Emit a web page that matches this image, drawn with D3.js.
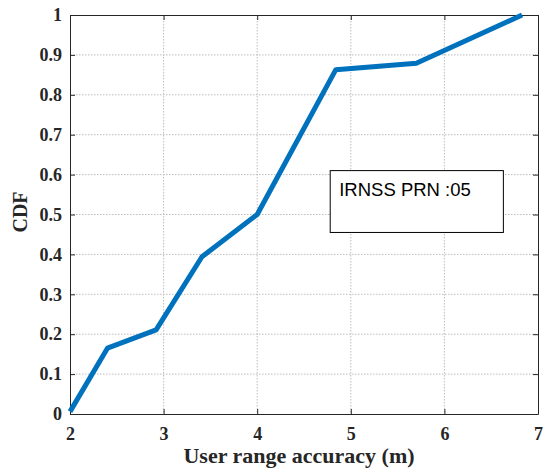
<!DOCTYPE html>
<html>
<head>
<meta charset="utf-8">
<script src="https://cdn.jsdelivr.net/npm/d3@7"></script>
<style>
  body { margin: 0; background: #fff; }
</style>
</head>
<body>
<div id="plot"></div>
<script>
// data
var accuracy = [2.0, 2.4, 2.92, 3.41, 4.0, 4.84, 5.7, 6.83];
var cdf = [0.006, 0.165, 0.211, 0.394, 0.5, 0.863, 0.879, 1.0];
var xTicks = [2, 3, 4, 5, 6, 7];
var yTicks = [0, 0.1, 0.2, 0.3, 0.4, 0.5, 0.6, 0.7, 0.8, 0.9, 1];
var legendLabel = "IRNSS PRN :05";

var svgWidth = 545, svgHeight = 473;
var margin = { top: 15, right: 7, bottom: 59, left: 70 };
var width = svgWidth - margin.left - margin.right;
var height = svgHeight - margin.top - margin.bottom;

var svg = d3.select("#plot").append("svg")
  .attr("width", svgWidth)
  .attr("height", svgHeight);

var chartGroup = svg.append("g")
  .attr("transform", `translate(${margin.left}, ${margin.top})`);

var xScale = d3.scaleLinear().domain([2, 7]).range([0, width]);
var yScale = d3.scaleLinear().domain([0, 1]).range([height, 0]);

// grid
chartGroup.selectAll(".xgrid")
  .data(xTicks.slice(1, -1))
  .enter().append("line")
  .attr("x1", d => xScale(d)).attr("x2", d => xScale(d))
  .attr("y1", 0).attr("y2", height)
  .attr("stroke", "#bdbdbd").attr("stroke-width", 1)
  .attr("stroke-dasharray", "1.5,1.5");

chartGroup.selectAll(".ygrid")
  .data(yTicks.slice(1, -1))
  .enter().append("line")
  .attr("x1", 0).attr("x2", width)
  .attr("y1", d => yScale(d)).attr("y2", d => yScale(d))
  .attr("stroke", "#bdbdbd").attr("stroke-width", 1)
  .attr("stroke-dasharray", "1.5,1.5");

// axes (ticks pointing inward)
var xAxis = d3.axisBottom(xScale).tickValues(xTicks).tickFormat(d3.format("d"))
  .tickSizeInner(-5).tickSizeOuter(0).tickPadding(13);
var yAxis = d3.axisLeft(yScale).tickValues(yTicks).tickFormat(d => d === 0 || d === 1 ? d : d3.format(".1f")(d))
  .tickSizeInner(-5).tickSizeOuter(0).tickPadding(8);

var gx = chartGroup.append("g")
  .attr("transform", `translate(0, ${height})`)
  .call(xAxis);
var gy = chartGroup.append("g").call(yAxis);

// top and right mirror ticks
chartGroup.append("g")
  .call(d3.axisTop(xScale).tickValues(xTicks).tickFormat("").tickSizeInner(-5).tickSizeOuter(0));
chartGroup.append("g")
  .attr("transform", `translate(${width}, 0)`)
  .call(d3.axisRight(yScale).tickValues(yTicks).tickFormat("").tickSizeInner(-5).tickSizeOuter(0));

chartGroup.selectAll(".domain, .tick line").attr("stroke", "#262626");
chartGroup.selectAll(".tick text")
  .style("font-family", "'Liberation Serif', 'Times New Roman', serif")
  .style("font-weight", "bold")
  .style("font-size", "18px")
  .attr("fill", "#262626");

// line
var line = d3.line()
  .x((d, i) => xScale(accuracy[i]))
  .y(d => yScale(d));

chartGroup.append("path")
  .datum(cdf)
  .attr("d", line)
  .attr("fill", "none")
  .attr("stroke", "#0072BD")
  .attr("stroke-width", 5)
  .attr("stroke-linejoin", "round");

// legend box
var lg = chartGroup.append("g")
  .attr("transform", `translate(${xScale(4.78)}, ${yScale(0.61)})`);
lg.append("rect")
  .attr("width", xScale(6.63) - xScale(4.78))
  .attr("height", yScale(0.455) - yScale(0.61))
  .attr("fill", "#fff")
  .attr("stroke", "#000")
  .attr("stroke-width", 1);
lg.append("text")
  .attr("x", 9)
  .attr("y", 25)
  .style("font-family", "'Liberation Sans', Arial, sans-serif")
  .style("font-size", "18.5px")
  .attr("fill", "#000")
  .text(legendLabel);

// axis labels
svg.append("text")
  .attr("x", margin.left + width / 2 - 5)
  .attr("y", 463)
  .attr("text-anchor", "middle")
  .style("font-family", "'Liberation Serif', 'Times New Roman', serif")
  .style("font-weight", "bold")
  .style("font-size", "22px")
  .attr("fill", "#262626")
  .text("User range accuracy (m)");

svg.append("text")
  .attr("transform", "translate(27, 212) rotate(-90)")
  .attr("text-anchor", "middle")
  .style("font-family", "'Liberation Serif', 'Times New Roman', serif")
  .style("font-weight", "bold")
  .style("font-size", "20px")
  .attr("fill", "#262626")
  .text("CDF");
</script>
</body>
</html>
